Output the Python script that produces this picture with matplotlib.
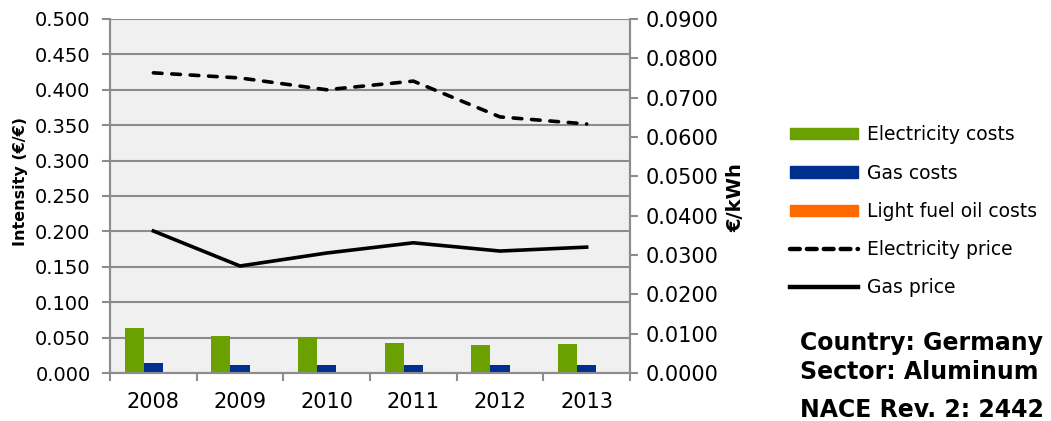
import numpy as np
import matplotlib.pyplot as plt
from matplotlib.lines import Line2D
from matplotlib.patches import Patch

years = ['2008', '2009', '2010', '2011', '2012', '2013']
elec_costs = [0.064, 0.052, 0.051, 0.042, 0.039, 0.041]
gas_costs = [0.014, 0.012, 0.012, 0.011, 0.011, 0.012]
oil_costs = [0.001, 0.0, 0.0, 0.0, 0.0, 0.0]
elec_price = [0.0763, 0.0750, 0.0720, 0.0742, 0.0651, 0.0633]
gas_price = [0.0361, 0.0272, 0.0305, 0.0331, 0.0310, 0.0320]

green = '#6AA100'
blue = '#00308F'
orange = '#FF6A00'
grey = '#8C8C8C'

fig = plt.figure(figsize=(10.51, 4.21), dpi=100)
ax = fig.add_axes([0.1047, 0.114, 0.4947, 0.841])
ax.set_facecolor('#F0F0F0')

x = np.arange(len(years))
w = 0.22
ax.bar(x - w, elec_costs, w, color=green, zorder=3)
ax.bar(x, gas_costs, w, color=blue, zorder=3)
ax.bar(x + w, oil_costs, w, color=orange, zorder=3)

ax.set_xlim(-0.5, 5.5)
ax.set_ylim(0, 0.5)
lt = np.arange(0, 0.501, 0.05)
ax.set_yticks(lt)
ax.set_yticklabels([f'{v:.3f}' for v in lt], fontsize=14)
ax.set_xticks(x)
ax.set_xticklabels(years, fontsize=15)
ax.set_xticks(np.arange(-0.5, 6, 1), minor=True)
ax.tick_params(axis='x', which='major', length=0, pad=14)
ax.tick_params(axis='x', which='minor', length=6, color=grey, width=1.5)
ax.tick_params(axis='y', length=6, color=grey, width=1.5, pad=8)
ax.grid(axis='y', color=grey, linewidth=1.5, zorder=0)
ax.set_axisbelow(True)
for s in ax.spines.values():
    s.set_color(grey)
    s.set_linewidth(1.5)
ax.spines['top'].set_visible(False)
ax.set_ylabel('Intensity (€/€)', fontsize=11.5, fontweight='bold')
ax.yaxis.set_label_coords(-0.158, 0.54)

ax2 = ax.twinx()
ax2.plot(x, elec_price, color='black', linestyle=(0, (2.4, 2.7)), dash_capstyle='round',
         linewidth=2.6, zorder=4)
ax2.plot(x, gas_price, color='black', linewidth=2.6, zorder=4)
ax2.set_ylim(0, 0.09)
rt = np.arange(0, 0.0901, 0.01)
ax2.set_yticks(rt)
ax2.set_yticklabels([f'{v:.4f}' for v in rt], fontsize=15)
ax2.tick_params(axis='y', length=6, color=grey, width=1.5, pad=5)
for s in ax2.spines.values():
    s.set_color(grey)
    s.set_linewidth(1.5)
ax2.spines['top'].set_visible(False)
ax2.set_ylabel('€/kWh', fontsize=14, fontweight='bold')
ax2.yaxis.set_label_coords(1.185, 0.496)

handles = [
    Patch(color=green, label='Electricity costs'),
    Patch(color=blue, label='Gas costs'),
    Patch(color=orange, label='Light fuel oil costs'),
    Line2D([], [], color='black', linestyle=(0, (2.2, 1.6)), dash_capstyle='round',
           linewidth=3.2, label='Electricity price'),
    Line2D([], [], color='black', linewidth=3.2, label='Gas price'),
]
fig.legend(handles=handles, loc='center left', bbox_to_anchor=(0.7517, 0.498), frameon=False,
           fontsize=13.5, handlelength=3.6, handleheight=0.55, labelspacing=1.03,
           handletextpad=0.48, borderpad=0, borderaxespad=0)

fig.text(0.761, 0.185, 'Country: Germany', fontsize=17, fontweight='bold', va='center')
fig.text(0.761, 0.116, 'Sector: Aluminum', fontsize=17, fontweight='bold', va='center')
fig.text(0.761, 0.026, 'NACE Rev. 2: 2442', fontsize=17, fontweight='bold', va='center')

fig.savefig('out.png', dpi=100)
